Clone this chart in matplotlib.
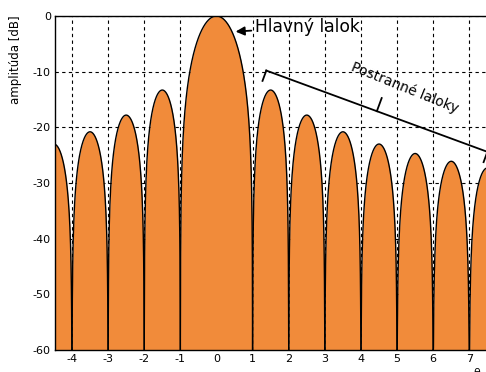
import numpy as np
import matplotlib.pyplot as plt

plt.rcParams['font.family'] = ['DejaVu Sans']
plt.rcParams['axes.unicode_minus'] = False

# nulls between lobes and the peak level of each lobe [dB]
lobe_edges = [-5, -4, -3, -2, -1, 1, 2, 3, 4, 5, 6, 7, 8]
lobe_peaks = [-23.0, -20.8, -17.8, -13.3, 0.0, -13.3, -17.8, -20.8, -23.0, -24.7, -26.1, -27.3]
x_ticks = [-4, -3, -2, -1, 0, 1, 2, 3, 4, 5, 6, 7]
y_ticks = [0, -10, -20, -30, -40, -50, -60]

FLOOR = -60
ORANGE = '#F18B3A'
PX_X = 36.1   # pixels per unit on x
PX_Y = 5.57   # pixels per dB on y

fig = plt.figure(figsize=(4.86, 3.72), dpi=100)
ax = fig.add_axes([55 / 486, 22 / 372, 436 / 486, 334 / 372])

for a, b, peak in zip(lobe_edges[:-1], lobe_edges[1:], lobe_peaks):
    u = np.linspace(1e-4, 1 - 1e-4, 300)
    x = a + u * (b - a)
    if peak == 0.0:
        prof = np.abs(np.sinc(2 * u - 1))
    else:
        prof = np.sin(np.pi * u)
    y = np.maximum(peak + 20 * np.log10(prof), FLOOR)
    ax.fill_between(x, FLOOR, y, color=ORANGE, lw=0, zorder=2)
    ax.plot(x, y, color='black', lw=1.0, zorder=3)

ax.set_xlim(-4.47, 7.6)
ax.set_ylim(FLOOR, 0)
ax.set_xticks(x_ticks)
ax.set_yticks(y_ticks)
ax.tick_params(length=0, labelsize=8, pad=3)
ax.grid(True, color='black', ls=(0, (3, 3)), lw=0.8, zorder=0)
ax.set_axisbelow(True)
for s in ax.spines.values():
    s.set_linewidth(1.0)
ax.spines['right'].set_visible(False)

fig.text(0.031, 1 - 60 / 372, 'amplitúda [dB]', rotation=90,
         ha='center', va='center', fontsize=8.5)
# x axis label sits at the lower right corner
fig.text(477 / 486, 1 - 368 / 372, 'θ', ha='center', va='top', fontsize=8)

# main lobe label
ax.annotate('Hlavný lalok', xy=(0.53, -2.8), xytext=(1.08, -2.9),
            fontsize=12.3, va='baseline', ha='left',
            arrowprops=dict(arrowstyle='-|>', color='black', lw=1.3,
                            mutation_scale=13, shrinkA=1, shrinkB=0))

# side lobe bracket
p0 = np.array([1.38, -9.8])
p1 = np.array([7.5, -24.4])
ax.plot([p0[0], p1[0]], [p0[1], p1[1]], color='black', lw=1.3, clip_on=False, zorder=4)
dx_px = (p1[0] - p0[0]) * PX_X
dy_px = (p1[1] - p0[1]) * PX_Y
norm = np.hypot(dx_px, dy_px)
# unit normal pointing down-left, converted back to data units
down_left = np.array([dy_px / norm / PX_X, -dx_px / norm / PX_Y])
for p, length in [(p0, 11), (p1, 11), ((p0 + p1) / 2, -14)]:
    q = p + down_left * length
    ax.plot([p[0], q[0]], [p[1], q[1]], color='black', lw=1.3, clip_on=False, zorder=4)

ax.text(5.2, -12.8, 'Postranné laloky', rotation=-22,
        rotation_mode='anchor', ha='center', va='center', fontsize=10)

fig.savefig('out.png', dpi=100)
